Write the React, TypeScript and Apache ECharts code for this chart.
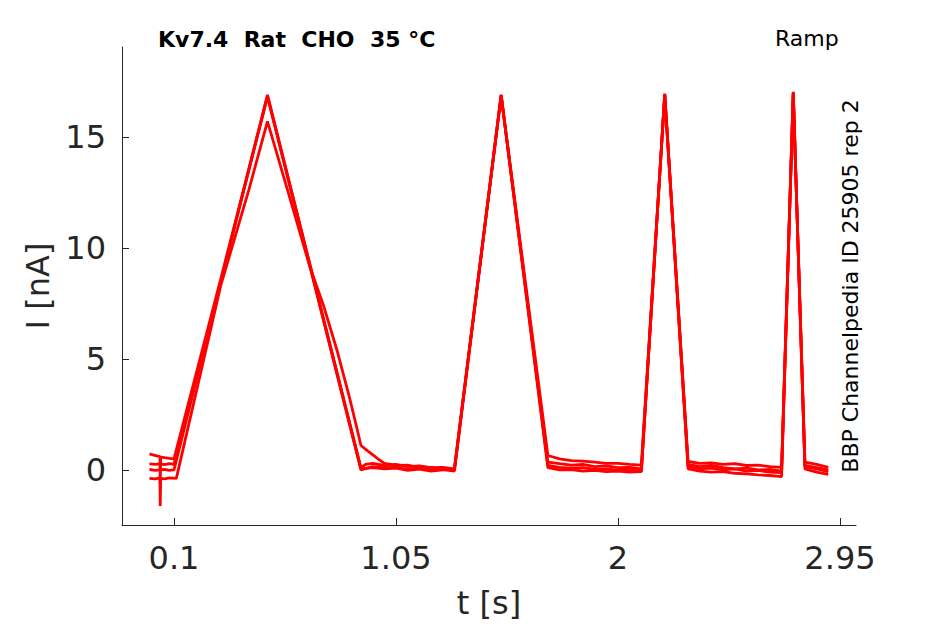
import React, { useEffect, useRef } from "react";
import * as echarts from "echarts";

const xTicks = [0.1, 1.05, 2, 2.95];
const yTicks = [0, 5, 10, 15];

const traceA: [number, number][] = [
  [-0.005, 0.72], [0.01, 0.68], [0.03, 0.62], [0.04, 0.6], [0.041, -0.6], [0.043, 0.58], [0.06, 0.55], [0.08, 0.52], [0.1, 0.5],
  [0.3, 8.6], [0.5, 16.85], [0.7, 8.5], [0.9, 0.1],
  [0.92, 0.25], [0.95, 0.3], [1.0, 0.2], [1.05, 0.25], [1.1, 0.15], [1.15, 0.18], [1.2, 0.1], [1.25, 0.12], [1.3, 0.05],
  [1.5, 16.88], [1.7, 0.65],
  [1.75, 0.5], [1.8, 0.42], [1.85, 0.4], [1.9, 0.35], [1.95, 0.3], [2.0, 0.3], [2.05, 0.25], [2.1, 0.22],
  [2.2, 16.92], [2.3, 0.38],
  [2.35, 0.3], [2.4, 0.32], [2.45, 0.25], [2.5, 0.28], [2.55, 0.2], [2.6, 0.22], [2.65, 0.15], [2.7, 0.12],
  [2.75, 17.0], [2.8, 0.35], [2.85, 0.25], [2.9, 0.12],
];

const traceB: [number, number][] = [
  [-0.005, 0.27], [0.02, 0.25], [0.04, 0.27], [0.06, 0.24], [0.08, 0.28], [0.1, 0.25],
  [0.3, 8.5], [0.5, 16.8], [0.7, 8.4], [0.9, 0.0],
  [0.95, 0.15], [1.0, 0.1], [1.05, 0.12], [1.1, 0.02], [1.15, 0.08], [1.2, -0.02], [1.25, 0.03], [1.3, -0.05],
  [1.5, 16.85], [1.7, 0.35],
  [1.75, 0.28], [1.8, 0.22], [1.85, 0.25], [1.9, 0.15], [1.95, 0.18], [2.0, 0.1], [2.05, 0.12], [2.1, 0.05],
  [2.2, 16.9], [2.3, 0.25],
  [2.35, 0.15], [2.4, 0.2], [2.45, 0.1], [2.5, 0.05], [2.55, 0.08], [2.6, 0.0], [2.65, 0.02], [2.7, -0.05],
  [2.75, 16.98], [2.8, 0.2], [2.85, 0.1], [2.9, 0.0],
];

const traceC: [number, number][] = [
  [-0.005, 0.02], [0.02, -0.02], [0.04, 0.0], [0.06, 0.02], [0.08, -0.02], [0.1, 0.0],
  [0.3, 8.45], [0.5, 16.9], [0.7, 8.45], [0.9, 0.05],
  [0.95, 0.1], [1.0, 0.05], [1.05, 0.08], [1.1, -0.02], [1.15, 0.04], [1.2, -0.05], [1.25, 0.0], [1.3, 0.0],
  [1.5, 16.9], [1.7, 0.2],
  [1.75, 0.12], [1.8, 0.08], [1.85, 0.1], [1.9, 0.02], [1.95, 0.05], [2.0, -0.02], [2.05, 0.0], [2.1, -0.05],
  [2.2, 16.95], [2.3, 0.15],
  [2.35, 0.05], [2.4, 0.08], [2.45, 0.0], [2.5, 0.05], [2.55, -0.05], [2.6, -0.02], [2.65, -0.1], [2.7, -0.12],
  [2.75, 17.03], [2.8, 0.15], [2.85, 0.05], [2.9, -0.08],
];

const traceD: [number, number][] = [
  [-0.005, -0.38], [0.02, -0.4], [0.04, -0.36], [0.041, -1.62], [0.043, -0.38], [0.06, -0.4], [0.08, -0.36], [0.11, -0.38],
  [0.3, 8.3], [0.42, 12.6], [0.5, 15.7], [0.6, 12.1], [0.68, 9.2], [0.74, 7.4], [0.8, 5.3], [0.85, 3.3], [0.88, 2.0], [0.9, 1.1],
  [0.93, 0.85], [0.973, 0.5], [1.0, 0.3], [1.05, 0.2], [1.1, 0.22], [1.15, 0.1], [1.2, 0.12], [1.25, 0.02], [1.3, 0.05],
  [1.5, 16.87], [1.7, 0.1],
  [1.75, 0.0], [1.8, 0.02], [1.85, -0.05], [1.9, -0.02], [1.95, -0.08], [2.0, -0.05], [2.05, -0.1], [2.1, -0.08],
  [2.2, 16.9], [2.3, 0.05],
  [2.35, -0.05], [2.4, -0.1], [2.45, -0.08], [2.5, -0.15], [2.55, -0.18], [2.6, -0.22], [2.65, -0.25], [2.7, -0.3],
  [2.75, 16.95], [2.8, 0.05], [2.85, -0.1], [2.9, -0.2],
];

const traces = [traceA, traceB, traceC, traceD];

const FONT = "DejaVu Sans";
const INK = "#262626";

export default function App() {
  const ref = useRef<HTMLDivElement>(null);
  useEffect(() => {
    if (!ref.current) return;
    const chart = echarts.init(ref.current, undefined, { renderer: "svg" });
    chart.setOption({
      animation: false,
      backgroundColor: "#ffffff",
      grid: { left: 122, right: 89, top: 47, bottom: 98 },
      xAxis: {
        type: "value",
        min: -0.1225,
        max: 3.0185,
        name: "t [s]",
        nameLocation: "middle",
        nameGap: 62,
        nameTextStyle: { fontFamily: FONT, fontSize: 32, color: INK },
        axisLine: { show: true, onZero: false, lineStyle: { color: INK, width: 1 } },
        axisTick: { show: true, inside: true, length: 7, customValues: xTicks, lineStyle: { color: INK } },
        axisLabel: { customValues: xTicks, fontFamily: FONT, fontSize: 32, color: INK, margin: 17 },
        splitLine: { show: false },
      },
      yAxis: {
        type: "value",
        min: -2.48,
        max: 19.05,
        name: "I [nA]",
        nameLocation: "middle",
        nameGap: 68,
        nameRotate: 90,
        nameTextStyle: { fontFamily: FONT, fontSize: 32, color: INK },
        axisLine: { show: true, onZero: false, lineStyle: { color: INK, width: 1 } },
        axisTick: { show: true, inside: true, length: 7, customValues: yTicks, lineStyle: { color: INK } },
        axisLabel: { customValues: yTicks, fontFamily: FONT, fontSize: 32, color: INK, margin: 16 },
        splitLine: { show: false },
      },
      series: traces.map((d) => ({
        type: "line",
        data: d,
        showSymbol: false,
        symbol: "none",
        lineStyle: { color: "#ff0000", width: 2.8 },
        z: 2,
      })),
      graphic: [
        {
          type: "text",
          left: 158,
          top: 28,
          style: {
            text: "Kv7.4\u00a0 Rat\u00a0 CHO\u00a0 35 °C",
            fontFamily: FONT,
            fontSize: 22,
            fontWeight: "bold",
            fill: "#000000",
          },
        },
        {
          type: "text",
          left: 775,
          top: 27,
          style: { text: "Ramp", fontFamily: FONT, fontSize: 22, fill: "#000000" },
        },
        {
          type: "text",
          x: 850,
          y: 286,
          rotation: Math.PI / 2,
          style: {
            text: "BBP Channelpedia ID 25905 rep 2",
            fontFamily: FONT,
            fontSize: 22,
            fill: "#000000",
            align: "center",
            verticalAlign: "middle",
          },
        },
      ],
    });
    return () => chart.dispose();
  }, []);
  return <div ref={ref} style={{ position: "absolute", left: 0, top: 0, width: 945, height: 624 }} />;
}
